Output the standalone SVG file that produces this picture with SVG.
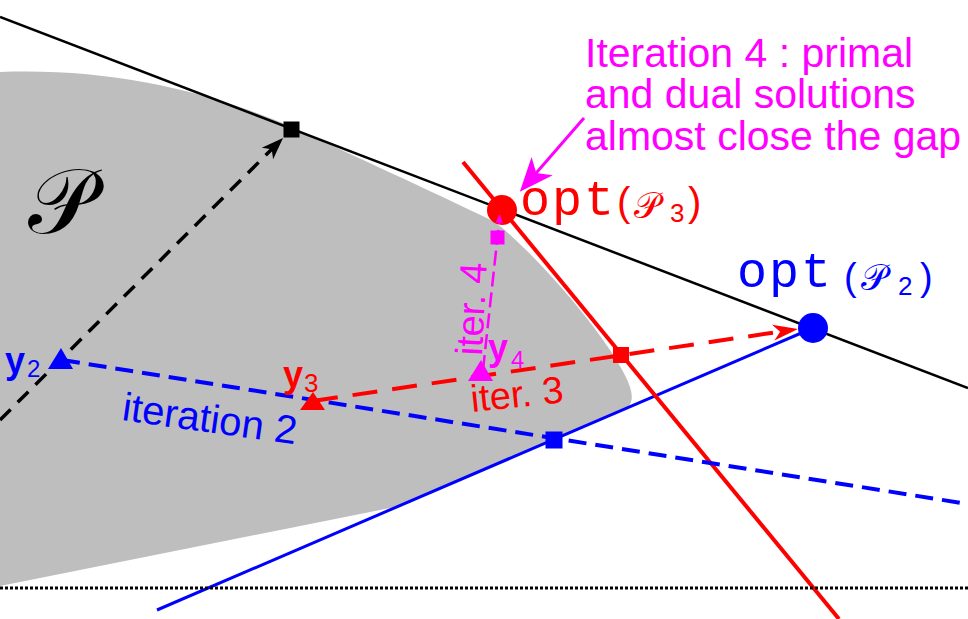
<svg xmlns="http://www.w3.org/2000/svg" width="968" height="619" viewBox="0 0 968 619">
<style>
  .sans { font-family: "Liberation Sans", Arial, sans-serif; }
  .mono { font-family: "Liberation Mono", "Courier New", monospace; letter-spacing: 2px; }
  .scr { font-family: "DejaVu Serif", "DejaVu Sans", serif; font-style: normal; }
  .red { fill: #ff0000; }
  .blue { fill: #0000ff; }
  .mag { fill: #ff00ff; }
  .blk { fill: #000000; }
</style>
<defs>
  <marker id="arrowBlack" viewBox="-24 -10 26 20" markerWidth="26" markerHeight="20" refX="-6" refY="0" orient="auto" markerUnits="userSpaceOnUse">
    <path d="M0,0 L-22,-8 L-16,0 L-22,8 Z" fill="#000000"/>
  </marker>
  <marker id="arrowRed" viewBox="-27 -10 29 20" markerWidth="29" markerHeight="20" refX="-6" refY="0" orient="auto" markerUnits="userSpaceOnUse">
    <path d="M0,0 L-25,-8 L-18,0 L-25,8 Z" fill="#ff0000"/>
  </marker>
  <marker id="arrowMagBig" viewBox="-36 -16 38 32" markerWidth="38" markerHeight="32" refX="-10" refY="0" orient="auto" markerUnits="userSpaceOnUse">
    <path d="M0,0 L-34,-14 L-25,0 L-34,14 Z" fill="#ff00ff"/>
  </marker>
  <marker id="arrowMagSmall" viewBox="-12 -6 14 12" markerWidth="14" markerHeight="12" refX="-3" refY="0" orient="auto" markerUnits="userSpaceOnUse">
    <path d="M0,0 L-10,-4 L-7,0 L-10,4 Z" fill="#ff00ff"/>
  </marker>
</defs>

<rect x="0" y="0" width="968" height="619" fill="#ffffff"/>

<g id="region-P">
  <path d="M0,72 C110,68 205,90 292,127 C345,152 425,188 495,222 C530,250 580,305 610,350 C628,378 642,402 622,411 L400,506 L0,586 Z" fill="#bebebe"/>
  <text class="scr" x="28" y="233" font-size="92" fill="#000000">𝒫</text>
</g>

<g id="connectors">
  <line id="black-line" x1="0" y1="17" x2="968" y2="388" stroke="#000000" stroke-width="2.5"/>
  <line id="blue-line" x1="157" y1="610" x2="813" y2="328" stroke="#0000ff" stroke-width="3"/>
  <line id="red-line" x1="463" y1="162" x2="839" y2="619" stroke="#ff0000" stroke-width="4"/>
  <line id="iteration2" x1="62" y1="360" x2="968" y2="504" stroke="#0000ff" stroke-width="4" stroke-dasharray="18 9"/>
  <line id="iteration3" x1="313" y1="401" x2="792" y2="329.9" stroke="#ff0000" stroke-width="4" stroke-dasharray="25 15" marker-end="url(#arrowRed)"/>
  <line id="black-dashed" x1="0" y1="420" x2="278.8" y2="142.2" stroke="#000000" stroke-width="3.5" stroke-dasharray="15 10" marker-end="url(#arrowBlack)"/>
  <line id="dotted-axis" x1="0" y1="588" x2="968" y2="588" stroke="#000000" stroke-width="3" stroke-dasharray="3 2"/>
</g>

<g id="sq-black"><rect x="283.5" y="121.5" width="16" height="16" class="blk"/></g>
<g id="sq-red"><rect x="613" y="347" width="16" height="16" class="red"/></g>
<g id="sq-blue"><rect x="545.5" y="431.5" width="17" height="17" class="blue"/></g>

<g id="opt-P3">
  <circle cx="502" cy="210" r="15" class="red"/>
  <text class="red">
    <tspan class="mono" x="520" y="215" font-size="50">opt</tspan><tspan class="sans" x="617" y="216" font-size="40">(</tspan><tspan class="scr" x="634" y="218" font-size="36">𝒫</tspan><tspan class="sans" x="670" y="222" font-size="26">3</tspan><tspan class="sans" x="688" y="216" font-size="40">)</tspan>
  </text>
</g>

<g id="opt-P2">
  <circle cx="813" cy="328" r="15" class="blue"/>
  <text class="blue">
    <tspan class="mono" x="737" y="287" font-size="50">opt</tspan><tspan class="sans" x="844" y="290" font-size="38">(</tspan><tspan class="scr" x="861" y="290" font-size="36">𝒫</tspan><tspan class="sans" x="898" y="295" font-size="26">2</tspan><tspan class="sans" x="920" y="290" font-size="38">)</tspan>
  </text>
</g>

<g id="connectors-magenta">
  <line id="iteration4" x1="483" y1="370" x2="499.7" y2="217" stroke="#ff00ff" stroke-width="2.5" stroke-dasharray="15 6" marker-end="url(#arrowMagSmall)"/>
  <line id="annotation-arrow" x1="584" y1="118" x2="526.4" y2="184.3" stroke="#ff00ff" stroke-width="3" marker-end="url(#arrowMagBig)"/>
</g>

<g id="sq-magenta"><rect x="490.5" y="230.5" width="14" height="14" class="mag"/></g>

<g id="y2">
  <polygon points="61,348 48,369 73,369" class="blue"/>
  <text class="sans blue"><tspan x="5" y="373" font-size="36" font-weight="bold">y</tspan><tspan x="27" y="377" font-size="24">2</tspan></text>
</g>

<g id="y3">
  <polygon points="313,392 300,410 325,410" class="red"/>
  <text class="sans red"><tspan x="283" y="387" font-size="36" font-weight="bold">y</tspan><tspan x="304" y="392" font-size="26">3</tspan></text>
</g>

<g id="y4">
  <polygon points="481,360 468,381 493,381" class="mag"/>
  <text class="sans mag"><tspan x="488" y="360" font-size="36" font-weight="bold">y</tspan><tspan x="511" y="368" font-size="24">4</tspan></text>
</g>

<g id="labels">
  <text class="sans blue" x="121" y="420" font-size="40" transform="rotate(8 121 420)">iteration 2</text>
  <text class="sans red" x="472" y="412" font-size="38" transform="rotate(-6 472 412)">iter. 3</text>
  <text class="sans mag" x="482" y="356" font-size="38" transform="rotate(-87 482 356)">iter. 4</text>
</g>

<g id="annotation">
  <text class="sans mag" font-size="41">
    <tspan x="585" y="67">Iteration 4 : primal</tspan>
    <tspan x="585" y="108">and dual solutions</tspan>
    <tspan x="585" y="150">almost close the gap</tspan>
  </text>
</g>
</svg>
